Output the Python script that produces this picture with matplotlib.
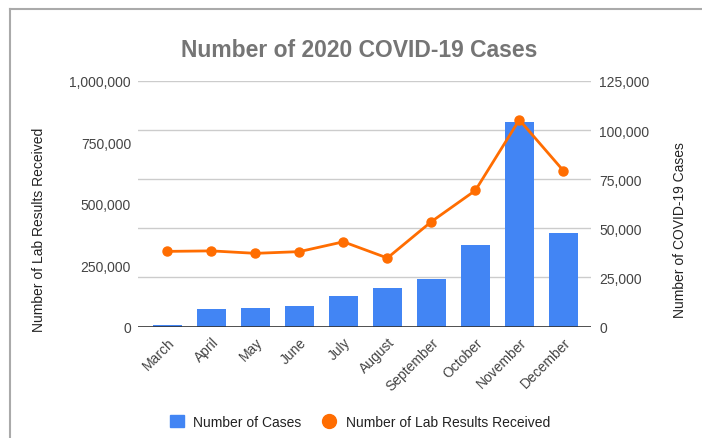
import matplotlib
matplotlib.use("Agg")
import matplotlib.pyplot as plt
from matplotlib.ticker import FuncFormatter
from matplotlib.lines import Line2D
from matplotlib.patches import Patch

months = ["March", "April", "May", "June", "July", "August",
          "September", "October", "November", "December"]
cases = [700, 8950, 9600, 10300, 15400, 19600, 24300, 41400, 103900, 47800]
lab_results = [306000, 308000, 298000, 305000, 345000, 279000, 427000, 554000, 842000, 635000]

plt.rcParams['font.family'] = ['Liberation Sans', 'DejaVu Sans']

BLUE = "#4285F4"
ORANGE = "#FF6D01"
TXT = "#444444"

fig = plt.figure(figsize=(7.02, 4.39), dpi=100)
ax = fig.add_axes([138/702, 1-327.5/439, (591-138)/702, (327.5-82)/439])
ax2 = ax.twinx()

x = list(range(len(months)))
ax2.bar(x, cases, width=0.65, color=BLUE, zorder=2)
ax.plot(x, lab_results, color=ORANGE, lw=2, marker="o", ms=6.5, zorder=5)

ax.set_zorder(ax2.get_zorder() + 1)
ax.patch.set_visible(False)

ax.set_xlim(-0.67, 9.63)
ax.set_ylim(0, 1000000)
ax2.set_ylim(0, 125000)
ax.set_yticks([0, 250000, 500000, 750000, 1000000])
ax2.set_yticks([0, 25000, 50000, 75000, 100000, 125000])
fmt = FuncFormatter(lambda v, p: f"{int(v):,}")
ax.yaxis.set_major_formatter(fmt)
ax2.yaxis.set_major_formatter(fmt)

ax2.grid(axis="y", color="#cccccc", lw=1, zorder=0)
ax2.set_axisbelow(True)
for a in (ax, ax2):
    for s in ("top", "right", "left", "bottom"):
        a.spines[s].set_visible(False)
    a.tick_params(length=0, labelsize=10, colors=TXT)
ax2.axhline(0, color="#333333", lw=1.2, zorder=6)

ax.set_xticks(x)
ax.set_xticklabels(months, rotation=45, ha="right", rotation_mode="anchor")
ax.tick_params(axis="x", pad=6)
ax.tick_params(axis="y", pad=5)
ax2.tick_params(axis="y", pad=6)

ax.set_ylabel("Number of Lab Results Received", fontsize=10, color="#222222")
ax2.set_ylabel("Number of COVID-19 Cases", fontsize=10, color="#222222")
ax.yaxis.set_label_coords(-0.203, (327.5-230)/245.5)
ax2.yaxis.set_label_coords(1.182, (327.5-230)/245.5)

fig.text(359/702, 1-56.7/439, "Number of 2020 COVID-19 Cases", ha="center", va="baseline",
         fontsize=16.5, fontweight="bold", color="#757575")

handles = [Patch(color=BLUE, label="Number of Cases"),
           Line2D([], [], color=ORANGE, marker="o", lw=0, ms=10, label="Number of Lab Results Received")]
fig.legend(handles=handles, loc="center", bbox_to_anchor=(360/702, 1-423/439), ncol=2,
           frameon=False, fontsize=10, handlelength=1.0, handleheight=1.0,
           columnspacing=1.5, handletextpad=0.7, labelcolor="#222222")

# border lines
fig.add_artist(Line2D([10/702, 1], [1-9.5/439, 1-9.5/439], transform=fig.transFigure, color="#aaaaaa", lw=1.5))
fig.add_artist(Line2D([10/702, 10/702], [0, 1-9.5/439], transform=fig.transFigure, color="#aaaaaa", lw=1.5))

fig.savefig("out.png", dpi=100)
